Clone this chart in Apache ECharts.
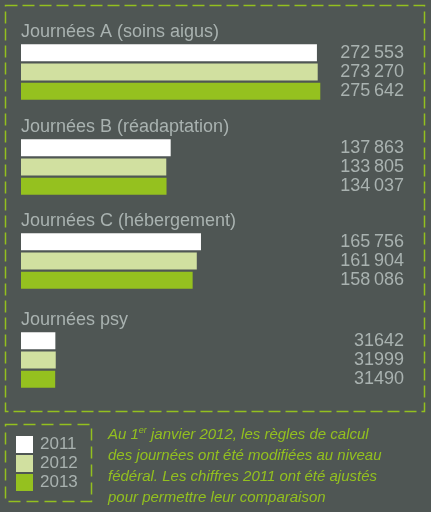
<!DOCTYPE html>
<html>
<head>
<meta charset="utf-8">
<script src="https://cdn.jsdelivr.net/npm/echarts@6/dist/echarts.min.js"></script>
<style>
  html, body { margin: 0; padding: 0; background: #4f5654; }
  #chart { width: 431px; height: 512px; }
</style>
</head>
<body>
<div id="chart"></div>
<script>
// catégories et valeurs
const groups = ['Journées A (soins aigus)', 'Journées B (réadaptation)', 'Journées C (hébergement)', 'Journées psy'];
const years = ['2011', '2012', '2013'];
const v2011 = [272553, 137863, 165756, 31642];
const v2012 = [273270, 133805, 161904, 31999];
const v2013 = [275642, 134037, 158086, 31490];
const values = [v2011, v2012, v2013];

const colors = ['#ffffff', '#d1e0a0', '#95c11f'];
const green = '#93c01f';
const grey = '#a9b2b0';
const font = '"Liberation Sans", Arial, sans-serif';
const gridTops = [43, 138, 232, 331];

function fmt(n) {
    const s = String(n);
    return n >= 100000 ? s.slice(0, 3) + '\u2009' + s.slice(3) : s;
}

const chart = echarts.init(document.getElementById('chart'));

const grid = [], xAxis = [], yAxis = [], series = [], graphic = [];
groups.forEach((name, g) => {
    grid.push({ left: 21, width: 300, top: gridTops[g], height: 58 });
    xAxis.push({ gridIndex: g, type: 'value', min: 0, max: 276300, show: false });
    yAxis.push({
        gridIndex: g, type: 'category', inverse: true, position: 'right', data: years,
        axisLine: { show: false }, axisTick: { show: false }, splitLine: { show: false },
        axisLabel: {
            interval: 0,
            formatter: (v, i) => fmt(values[i][g]),
            align: 'right', margin: 83, color: grey, fontSize: 18, fontFamily: font
        }
    });
    years.forEach((y, k) => {
        series.push({
            type: 'bar', name: y, xAxisIndex: g, yAxisIndex: g, stack: 's' + g,
            barWidth: 17,
            data: years.map((_, i) => i === k ? values[k][g] : '-'),
            itemStyle: { color: colors[k] }
        });
    });
    graphic.push({
        type: 'text', x: 21, y: gridTops[g] - 11,
        style: {
            text: name, fill: grey, font: '18px ' + font,
            textVerticalAlign: 'middle', verticalAlign: 'middle'
        }
    });
});

// cadres pointillés
graphic.push({
    type: 'rect', shape: { x: 5.5, y: 5.5, width: 419, height: 406 },
    style: { fill: 'none', stroke: green, lineWidth: 1.5, lineDash: [12, 5] }
});
graphic.push({
    type: 'rect', shape: { x: 5.5, y: 424.5, width: 86, height: 77 },
    style: { fill: 'none', stroke: green, lineWidth: 1.5, lineDash: [12, 6] }
});

// note
graphic.push({
    type: 'text', x: 108, y: 424,
    style: {
        text: '{a|Au 1}{s|er}{a| janvier 2012, les règles de calcul}\n' +
              '{a|des journées ont été modifiées au niveau}\n' +
              '{a|fédéral. Les chiffres 2011 ont été ajustés}\n' +
              '{a|pour permettre leur comparaison}',
        fill: green,
        rich: {
            a: { fill: green, fontStyle: 'italic', fontSize: 15, fontFamily: font, lineHeight: 21 },
            s: { fill: green, fontStyle: 'italic', fontSize: 9, fontFamily: font, lineHeight: 21, verticalAlign: 'top', padding: [2, 0, 0, 0] }
        }
    }
});

chart.setOption({
    backgroundColor: '#4f5654',
    animation: false,
    grid, xAxis, yAxis, series, graphic,
    legend: {
        data: years, orient: 'vertical', left: 16, top: 436, padding: 0,
        icon: 'rect', itemWidth: 17, itemHeight: 17, itemGap: 2,
        selectedMode: false,
        textStyle: { color: grey, fontSize: 17, fontFamily: font, padding: [0, 0, 0, 2] }
    }
});
</script>
</body>
</html>
